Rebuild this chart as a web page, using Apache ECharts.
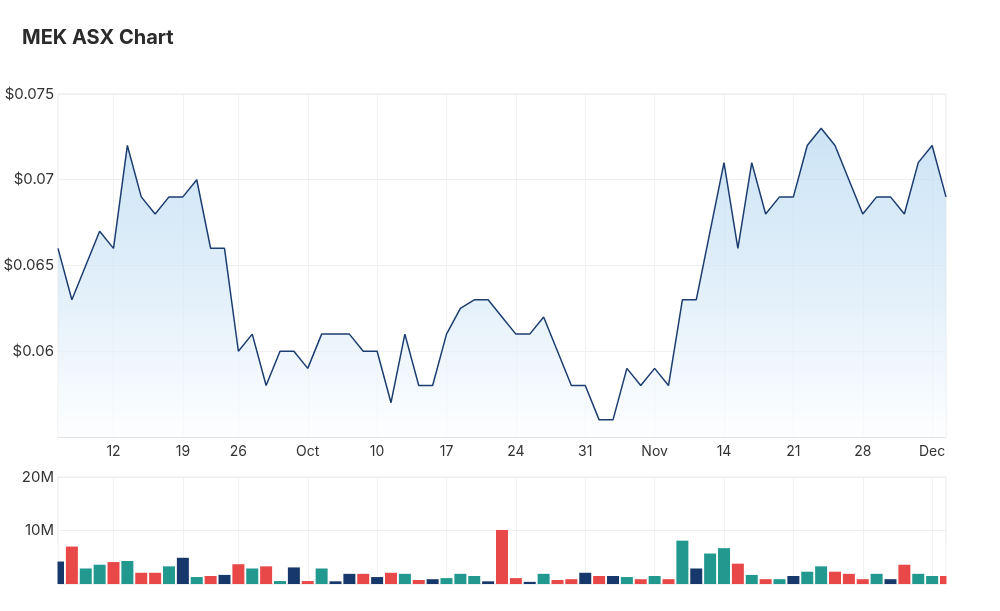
<!DOCTYPE html>
<html>
<head>
<meta charset="utf-8">
<script src="https://cdn.jsdelivr.net/npm/echarts@6/dist/echarts.min.js"></script>
<style>
html,body{margin:0;padding:0;background:#fff;}
#chart{width:1000px;height:611px;}
</style>
</head>
<body>
<div id="chart"></div>
<script>
// Trading days (ASX, 2022)
const dates = [
  '2022-09-06','2022-09-07','2022-09-08','2022-09-09',
  '2022-09-12','2022-09-13','2022-09-14','2022-09-15','2022-09-16',
  '2022-09-19','2022-09-20','2022-09-21','2022-09-23',
  '2022-09-26','2022-09-27','2022-09-28','2022-09-29','2022-09-30',
  '2022-10-03','2022-10-04','2022-10-05','2022-10-06','2022-10-07',
  '2022-10-10','2022-10-11','2022-10-12','2022-10-13','2022-10-14',
  '2022-10-17','2022-10-18','2022-10-19','2022-10-20','2022-10-21',
  '2022-10-24','2022-10-25','2022-10-26','2022-10-27','2022-10-28',
  '2022-10-31','2022-11-01','2022-11-02','2022-11-03','2022-11-04',
  '2022-11-07','2022-11-08','2022-11-09','2022-11-10','2022-11-11',
  '2022-11-14','2022-11-15','2022-11-16','2022-11-17','2022-11-18',
  '2022-11-21','2022-11-22','2022-11-23','2022-11-24','2022-11-25',
  '2022-11-28','2022-11-29','2022-11-30','2022-12-01','2022-12-02',
  '2022-12-05','2022-12-06'
];
// Closing price ($)
const prices = [
  0.066,0.063,0.065,0.067,
  0.066,0.072,0.069,0.068,0.069,
  0.069,0.070,0.066,0.066,
  0.060,0.061,0.058,0.060,0.060,
  0.059,0.061,0.061,0.061,0.060,
  0.060,0.057,0.061,0.058,0.058,
  0.061,0.0625,0.063,0.063,0.062,
  0.061,0.061,0.062,0.060,0.058,
  0.058,0.056,0.056,0.059,0.058,
  0.059,0.058,0.063,0.063,0.067,
  0.071,0.066,0.071,0.068,0.069,
  0.069,0.072,0.073,0.072,0.070,
  0.068,0.069,0.069,0.068,0.071,
  0.072,0.069
];
// Volume (shares)
const volumes = [
  4.2e6,7.0e6,2.9e6,3.6e6,
  4.1e6,4.3e6,2.1e6,2.1e6,3.3e6,
  4.9e6,1.3e6,1.5e6,1.7e6,
  3.7e6,2.9e6,3.3e6,0.55e6,3.1e6,
  0.55e6,2.9e6,0.5e6,1.9e6,1.9e6,
  1.3e6,2.1e6,1.9e6,0.75e6,0.9e6,
  1.1e6,1.9e6,1.5e6,0.5e6,10.1e6,
  1.1e6,0.4e6,1.9e6,0.75e6,0.9e6,
  2.1e6,1.5e6,1.5e6,1.3e6,0.9e6,
  1.5e6,0.9e6,8.1e6,2.9e6,5.7e6,
  6.7e6,3.8e6,1.7e6,0.9e6,0.9e6,
  1.5e6,2.3e6,3.3e6,2.3e6,1.9e6,
  0.9e6,1.9e6,0.9e6,3.6e6,1.9e6,
  1.5e6,1.5e6
];
// X-axis tick labels (weekly)
const tickDates = ['2022-09-12','2022-09-19','2022-09-26','2022-10-03','2022-10-10','2022-10-17','2022-10-24','2022-10-31','2022-11-07','2022-11-14','2022-11-21','2022-11-28','2022-12-05'];
const tickLabels = ['12','19','26','Oct','10','17','24','31','Nov','14','21','28','Dec'];

const UP = '#21998e', DOWN = '#e84848', FLAT = '#17386b';
const FONT = 'Inter, "Noto Sans", sans-serif';

const GRID_L = 58, GRID_R = 54, VOL_TOP = 477, VOL_H = 107;

const isTick = (i, v) => tickDates.indexOf(v) >= 0;
const volData = volumes.map((v, i) => {
  let c = FLAT;
  if (i > 0) {
    if (prices[i] > prices[i - 1]) c = UP;
    else if (prices[i] < prices[i - 1]) c = DOWN;
  }
  return { value: v, itemStyle: { color: c } };
});

const chart = echarts.init(document.getElementById('chart'), null, { renderer: 'canvas' });
chart.setOption({
  animation: false,
  backgroundColor: '#fff',
  textStyle: { fontFamily: FONT },
  title: {
    text: 'MEK ASX Chart',
    left: 17, top: 23,
    textStyle: { fontFamily: FONT, fontSize: 20, fontWeight: 'bold', color: '#2b2b2b' }
  },
  grid: [
    { left: GRID_L, right: GRID_R, top: 94, height: 343, show: true, borderColor: '#ebebeb', borderWidth: 1 },
    { left: GRID_L, right: GRID_R, top: VOL_TOP, height: VOL_H, show: true, borderColor: '#ebebeb', borderWidth: 1 }
  ],
  // white masks trimming the half-bars that spill past the volume panel's left/right edges
  graphic: [
    { type: 'rect', z: 100, silent: true, shape: { x: GRID_L - 9, y: VOL_TOP + 65, width: 8.5, height: VOL_H - 64 }, style: { fill: '#fff' } },
    { type: 'rect', z: 100, silent: true, shape: { x: 1000 - GRID_R + 0.5, y: VOL_TOP + 65, width: 9, height: VOL_H - 64 }, style: { fill: '#fff' } }
  ],
  xAxis: [
    {
      type: 'category', gridIndex: 0, data: dates, boundaryGap: false,
      axisLine: { show: true, lineStyle: { color: '#e3e3e3', width: 1 } },
      axisTick: { show: false },
      axisLabel: {
        interval: isTick, margin: 8, fontSize: 14, color: '#333', fontFamily: FONT,
        formatter: (v) => tickLabels[tickDates.indexOf(v)]
      },
      splitLine: { show: true, interval: isTick, lineStyle: { color: '#f0f0f0', width: 1 } }
    },
    {
      type: 'category', gridIndex: 1, data: dates, boundaryGap: false,
      axisLine: { show: false }, axisTick: { show: false }, axisLabel: { show: false },
      splitLine: { show: true, interval: isTick, lineStyle: { color: '#f0f0f0', width: 1 } }
    }
  ],
  yAxis: [
    {
      type: 'value', gridIndex: 0, min: 0.055, max: 0.075, interval: 0.005,
      axisLine: { show: false }, axisTick: { show: false },
      axisLabel: {
        fontSize: 15, color: '#333', margin: 4, fontFamily: FONT,
        formatter: (v) => v < 0.0575 ? '' : '$' + parseFloat(v.toFixed(3)).toString()
      },
      splitLine: { lineStyle: { color: '#efefef', width: 1 } }
    },
    {
      type: 'value', gridIndex: 1, min: 0, max: 20e6, interval: 10e6,
      axisLine: { show: false }, axisTick: { show: false },
      axisLabel: {
        fontSize: 15, color: '#333', margin: 4, fontFamily: FONT,
        formatter: (v) => v === 0 ? '' : (v / 1e6) + 'M'
      },
      splitLine: { lineStyle: { color: '#efefef', width: 1 } }
    }
  ],
  series: [
    {
      type: 'line', xAxisIndex: 0, yAxisIndex: 0, data: prices,
      symbol: 'none', smooth: false,
      lineStyle: { color: '#1c3d70', width: 1.5 },
      areaStyle: {
        color: new echarts.graphic.LinearGradient(0, 0, 0, 1, [
          { offset: 0, color: '#b7d8f1' },
          { offset: 0.5, color: '#d4e8f7' },
          { offset: 1, color: '#fdfeff' }
        ])
      }
    },
    {
      type: 'bar', xAxisIndex: 1, yAxisIndex: 1, data: volData,
      barWidth: 12, clip: true
    }
  ]
});
</script>
</body>
</html>
